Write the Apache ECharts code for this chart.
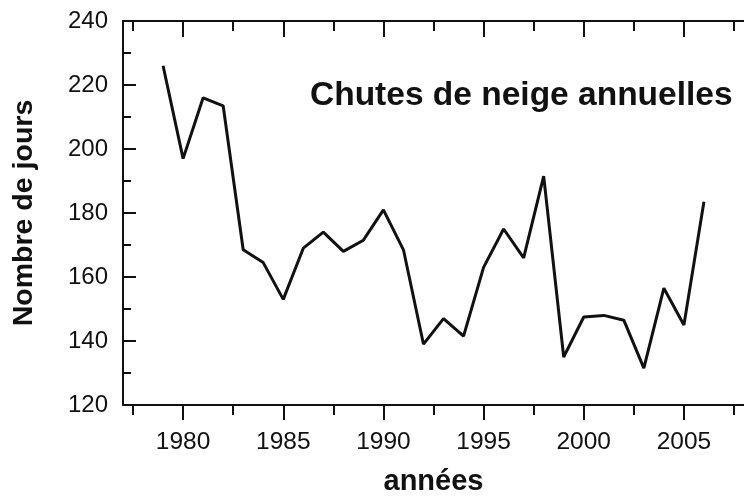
<!DOCTYPE html>
<html>
<head>
<meta charset="utf-8">
<script src="https://cdn.jsdelivr.net/npm/echarts@6/dist/echarts.min.js"></script>
<style>html,body{margin:0;padding:0;background:#fff;}#c{width:744px;height:504px;}</style>
</head>
<body>
<div id="c"></div>
<script>
const years = [1979,1980,1981,1982,1983,1984,1985,1986,1987,1988,1989,1990,1991,1992,1993,1994,1995,1996,1997,1998,1999,2000,2001,2002,2003,2004,2005,2006];
const snowDays = [226,197,216,213.5,168.5,164.5,153,169,174,168,171.5,181,168.5,139,147,141.5,163,175,166,191.5,135,147.5,148,146.5,131.5,156.5,145,183.5];
const xMajorTicks = [1980,1985,1990,1995,2000,2005];
const xMinorTicks = [1977.5,1982.5,1987.5,1992.5,1997.5,2002.5,2007.5];
const titleText = 'Chutes de neige annuelles';
const yName = 'Nombre de jours';
const xName = 'années';

const ink = '#111';
const font = 'Liberation Sans, Arial, Helvetica, sans-serif';
const chart = echarts.init(document.getElementById('c'));

function xAx(pos, ticks, len, inside, showLine, showLabel, extra) {
  return Object.assign({
    type: 'value', position: pos, min: 1977, max: 2008,
    axisLine: {show: showLine, lineStyle: {color: ink, width: 2}},
    axisTick: {show: true, customValues: ticks, length: len, inside: inside, lineStyle: {color: ink, width: 2}},
    axisLabel: {show: showLabel, customValues: ticks, formatter: v => String(v), fontSize: 24.5, color: ink, fontFamily: font, margin: 25},
    splitLine: {show: false}
  }, extra || {});
}

chart.setOption({
  backgroundColor: '#fff',
  animation: false,
  title: {
    text: titleText, left: 305, top: 74,
    textStyle: {fontSize: 33.5, fontWeight: 'bold', color: ink, fontFamily: font}
  },
  grid: {left: 123, top: 21, width: 623, height: 384, containLabel: false},
  xAxis: [
    xAx('bottom', xMajorTicks, 15, false, true, true, {
      name: xName, nameLocation: 'middle', nameGap: 62,
      nameTextStyle: {fontSize: 29, fontWeight: 'bold', color: ink, fontFamily: font}
    }),
    xAx('bottom', xMinorTicks, 10, false, false, false),
    xAx('top', xMajorTicks, 16, true, true, false),
    xAx('top', xMinorTicks, 10, true, false, false)
  ],
  yAxis: [{
    type: 'value', min: 120, max: 240, interval: 20,
    name: yName, nameLocation: 'middle', nameGap: 84,
    nameTextStyle: {fontSize: 28.5, fontWeight: 'bold', color: ink, fontFamily: font},
    axisLine: {show: true, lineStyle: {color: ink, width: 2}},
    axisTick: {show: true, inside: true, length: 13, lineStyle: {color: ink, width: 2}},
    minorTick: {show: true, splitNumber: 2, length: 8, lineStyle: {color: ink, width: 2}},
    axisLabel: {fontSize: 24, color: ink, fontFamily: font, margin: 15},
    splitLine: {show: false}
  }],
  series: [{
    type: 'line',
    data: years.map((y, i) => [y, snowDays[i]]),
    showSymbol: false,
    lineStyle: {color: ink, width: 3},
    itemStyle: {color: ink}
  }]
});
</script>
</body>
</html>
